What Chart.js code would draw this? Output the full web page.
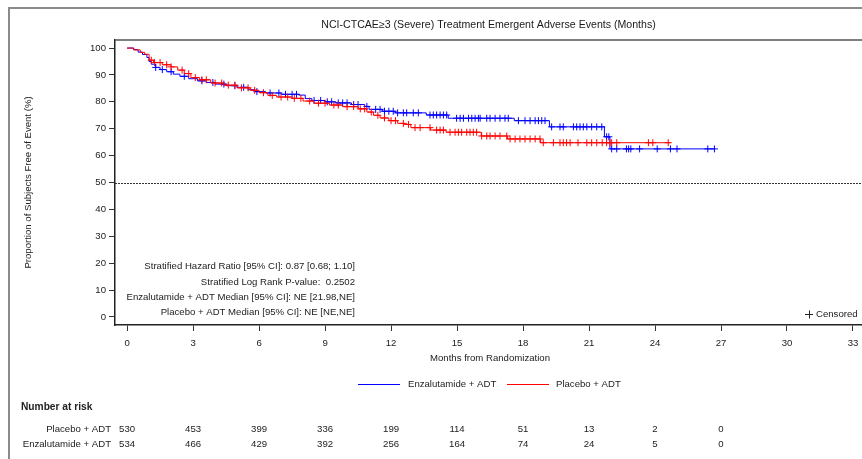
<!DOCTYPE html>
<html>
<head>
<meta charset="utf-8">
<script src="https://cdn.jsdelivr.net/npm/chart.js@4.4.1/dist/chart.umd.min.js"></script>
<style>
html,body{margin:0;padding:0;background:#fff;}
canvas{display:block;}
</style>
</head>
<body>
<canvas id="c" width="862" height="459"></canvas>
<script>
// ---- data ----
const chartTitle = "NCI-CTCAE\u22653 (Severe) Treatment Emergent Adverse Events (Months)";
const xTicks = [0,3,6,9,12,15,18,21,24,27,30,33];
const yTicks = [0,10,20,30,40,50,60,70,80,90,100];

const enzaTimes = [0,0.3,0.5,0.7,0.9,1.0,1.1,1.3,1.5,1.8,2.1,2.4,2.8,3.2,3.6,4.0,4.5,5.0,5.5,5.8,6.3,7.0,7.8,8.1,8.4,9.0,9.5,10.2,10.8,11.0,11.6,12.2,13.6,14.6,17.6,19.2,21.7,21.95,26.7];
const enzaSurv  = [100,99.4,98.5,97.6,96.5,95,94,92.8,92,91.2,90.3,89.5,88.6,87.8,87.2,86.6,86,85.4,84.5,83.8,83.3,82.8,82.5,81.2,80.5,80,79.6,79,78.3,77.2,76.5,75.9,75.1,73.9,73.0,70.7,67.0,62.5,62.5];

const placeboTimes = [0,0.3,0.6,0.8,1.0,1.2,1.6,2.0,2.3,2.6,2.9,3.3,3.8,4.4,5.0,5.6,6.0,6.4,6.8,7.5,8.0,8.5,9.2,9.8,10.5,10.9,11.2,11.5,11.9,12.3,12.6,12.9,13.8,14.5,16.1,17.3,18.8,24.7];
const placeboSurv  = [100,99.3,98.4,97.7,95.5,94.6,93.8,93,91.8,90.5,89,88.2,87,86.2,85.2,84.3,83.4,82.4,81.8,81.3,80.3,79.5,78.8,78.2,77.4,76.2,75,74,73,72,71.6,70.4,69.5,68.7,67.3,66.2,64.8,64.8];

const enzaCensor = [1.3,1.6,2.0,2.6,3.4,3.9,4.4,4.9,5.3,5.9,6.5,6.9,7.2,7.5,7.7,8.5,8.8,9.1,9.3,9.6,9.8,10.0,10.3,10.5,10.9,11.3,11.5,11.7,11.9,12.1,12.3,12.56,12.71,13.01,13.24,13.77,13.92,14.07,14.23,14.38,14.53,14.98,15.14,15.29,15.52,15.67,15.82,15.97,16.05,16.35,16.5,16.73,16.95,17.18,17.33,17.79,18.09,18.32,18.55,18.7,18.85,19.0,19.3,19.68,19.83,20.29,20.44,20.59,20.74,20.9,21.12,21.35,21.58,21.8,21.9,22.03,22.26,22.7,22.8,22.9,23.3,24.1,24.7,25.0,26.4,26.7];
const placeboCensor = [1.1,1.25,1.5,1.8,2.0,2.5,2.8,3.1,3.4,3.6,4.0,4.3,4.6,4.9,5.2,5.5,5.8,6.2,6.6,7.0,7.3,7.6,7.9,8.3,8.7,9.0,9.4,9.6,10.0,10.3,10.6,10.8,11.1,11.4,11.7,12.0,12.2,12.56,12.79,13.09,13.32,13.77,14.07,14.23,14.38,14.68,14.91,15.06,15.21,15.44,15.59,15.74,15.89,16.12,16.35,16.5,16.73,16.95,17.26,17.41,17.64,17.86,18.09,18.32,18.55,18.77,18.92,19.38,19.68,19.83,19.98,20.14,20.5,20.9,21.12,21.35,21.6,21.8,21.95,22.03,22.26,23.7,23.9,24.6];

const riskTimes = [0,3,6,9,12,15,18,21,24,27];
const placeboRisk = [530,453,399,336,199,114,51,13,2,0];
const enzaRisk = [534,466,429,392,256,164,74,24,5,0];

const seriesLabels = ["Enzalutamide + ADT","Placebo + ADT"];
const statLines = [
  "Stratified Hazard Ratio [95% CI]: 0.87 [0.68; 1.10]",
  "Stratified Log Rank P-value:  0.2502",
  "Enzalutamide + ADT Median [95% CI]: NE [21.98,NE]",
  "Placebo + ADT Median [95% CI]: NE [NE,NE]"
];

// ---- helpers ----
const FONT = "'Liberation Sans', Arial, sans-serif";
const BLUE = "#0000ff", RED = "#ff0000";
function toPts(ts, vs){ return ts.map((t,i)=>({x:t,y:vs[i]})); }
function survAt(ts, vs, t){ let v = vs[0]; for(let i=0;i<ts.length;i++){ if(ts[i] <= t) v = vs[i]; } return v; }
function censorPts(cs, ts, vs){ return cs.map(t=>({x:t,y:survAt(ts,vs,t)})); }

const decor = {
  id:'decor',
  beforeDraw(chart){
    const c = chart.ctx;
    c.save();
    c.fillStyle = '#fff'; c.fillRect(0,0,chart.width,chart.height);
    c.restore();
  },
  afterDraw(chart){
    const c = chart.ctx, a = chart.chartArea, xs = chart.scales.x, ys = chart.scales.y;
    c.save();
    // outer frame
    c.strokeStyle = '#8a8a8a'; c.lineWidth = 2;
    c.beginPath(); c.moveTo(9,459); c.lineTo(9,8); c.lineTo(862,8); c.stroke();
    // plot top frame
    c.strokeStyle = '#555'; c.lineWidth = 1.5;
    c.beginPath(); c.moveTo(a.left,a.top); c.lineTo(a.right,a.top); c.stroke();
    // title
    c.fillStyle = '#1a1a1a'; c.font = "10.6px " + FONT; c.textAlign='center'; c.textBaseline='middle';
    c.fillText(chartTitle, (a.left+a.right)/2, 25);
    // reference line at 50
    const y50 = Math.round(ys.getPixelForValue(50))+0.5;
    c.strokeStyle = '#333'; c.lineWidth = 1; c.setLineDash([2,1]);
    c.beginPath(); c.moveTo(a.left,y50); c.lineTo(a.right,y50); c.stroke();
    c.setLineDash([]);
    // stats text
    c.font = "9.6px " + FONT; c.textAlign='right'; c.fillStyle='#222';
    const sy = [266,282,297,312];
    statLines.forEach((s,i)=>c.fillText(s, 355, sy[i]));
    // censored legend
    c.textAlign='left';
    c.fillText("Censored", 816, 314);
    c.strokeStyle='#222'; c.lineWidth=1;
    c.beginPath(); c.moveTo(805,314.5); c.lineTo(813,314.5); c.moveTo(809.5,310.5); c.lineTo(809.5,318.5); c.stroke();
    // x axis title
    c.textAlign='center';
    c.fillText("Months from Randomization", 490, 358);
    // legend
    c.lineWidth = 1;
    c.strokeStyle = BLUE; c.beginPath(); c.moveTo(358,384.5); c.lineTo(400,384.5); c.stroke();
    c.strokeStyle = RED; c.beginPath(); c.moveTo(507,384.5); c.lineTo(549,384.5); c.stroke();
    c.textAlign='left'; c.fillStyle='#222';
    c.fillText(seriesLabels[0], 408, 384);
    c.fillText(seriesLabels[1], 556, 384);
    // risk table
    c.font = "bold 10.2px " + FONT;
    c.fillText("Number at risk", 21, 407);
    c.font = "9.6px " + FONT;
    c.textAlign='right';
    c.fillText("Placebo + ADT", 111, 429);
    c.fillText("Enzalutamide + ADT", 111, 444);
    c.textAlign='center';
    riskTimes.forEach((t,i)=>{
      const px = xs.getPixelForValue(t);
      c.fillText(String(placeboRisk[i]), px, 429);
      c.fillText(String(enzaRisk[i]), px, 444);
    });
    c.restore();
  }
};

new Chart(document.getElementById('c'), {
  type:'line',
  data:{
    datasets:[
      {label:seriesLabels[0], data:toPts(enzaTimes,enzaSurv), borderColor:BLUE, borderWidth:1, stepped:true, pointRadius:0, fill:false, order:2},
      {label:seriesLabels[1], data:toPts(placeboTimes,placeboSurv), borderColor:RED, borderWidth:1, stepped:true, pointRadius:0, fill:false, order:1},
      {label:'Enza censored', data:censorPts(enzaCensor,enzaTimes,enzaSurv), showLine:false, pointStyle:'cross', pointRadius:3.5, pointBorderWidth:1, borderColor:BLUE, pointBorderColor:BLUE, order:2},
      {label:'Placebo censored', data:censorPts(placeboCensor,placeboTimes,placeboSurv), showLine:false, pointStyle:'cross', pointRadius:3.5, pointBorderWidth:1, borderColor:RED, pointBorderColor:RED, order:1}
    ]
  },
  options:{
    responsive:false, animation:false, devicePixelRatio:1,
    layout:{padding:{top:40,left:0,right:0,bottom:0}, autoPadding:false},
    plugins:{legend:{display:false}, title:{display:false}, tooltip:{enabled:false}},
    scales:{
      x:{type:'linear', min:-0.55, max:33.41,
        afterBuildTicks:(s)=>{ s.ticks = xTicks.map(v=>({value:v})); },
        afterFit:(s)=>{ s.height = 134; s.paddingLeft = 0; s.paddingRight = 0; },
        grid:{drawOnChartArea:false, drawTicks:true, tickLength:6, color:'#333', tickWidth:1},
        border:{display:true, color:'#222', width:1.5},
        ticks:{font:{family:FONT,size:9.6}, color:'#222', padding:7, maxRotation:0, autoSkip:false}
      },
      y:{type:'linear', min:-3, max:103,
        afterBuildTicks:(s)=>{ s.ticks = yTicks.map(v=>({value:v})); },
        afterFit:(s)=>{ s.width = 115; s.paddingTop = 0; s.paddingBottom = 0; },
        grid:{drawOnChartArea:false, drawTicks:true, tickLength:6, color:'#333', tickWidth:1},
        border:{display:true, color:'#222', width:1.5},
        title:{display:true, text:'Proportion of Subjects Free of Event (%)', font:{family:FONT,size:9.6}, color:'#222', padding:{top:23,bottom:0}},
        ticks:{font:{family:FONT,size:9.6}, color:'#222', padding:3, autoSkip:false}
      }
    }
  },
  plugins:[decor]
});
</script>
</body>
</html>
